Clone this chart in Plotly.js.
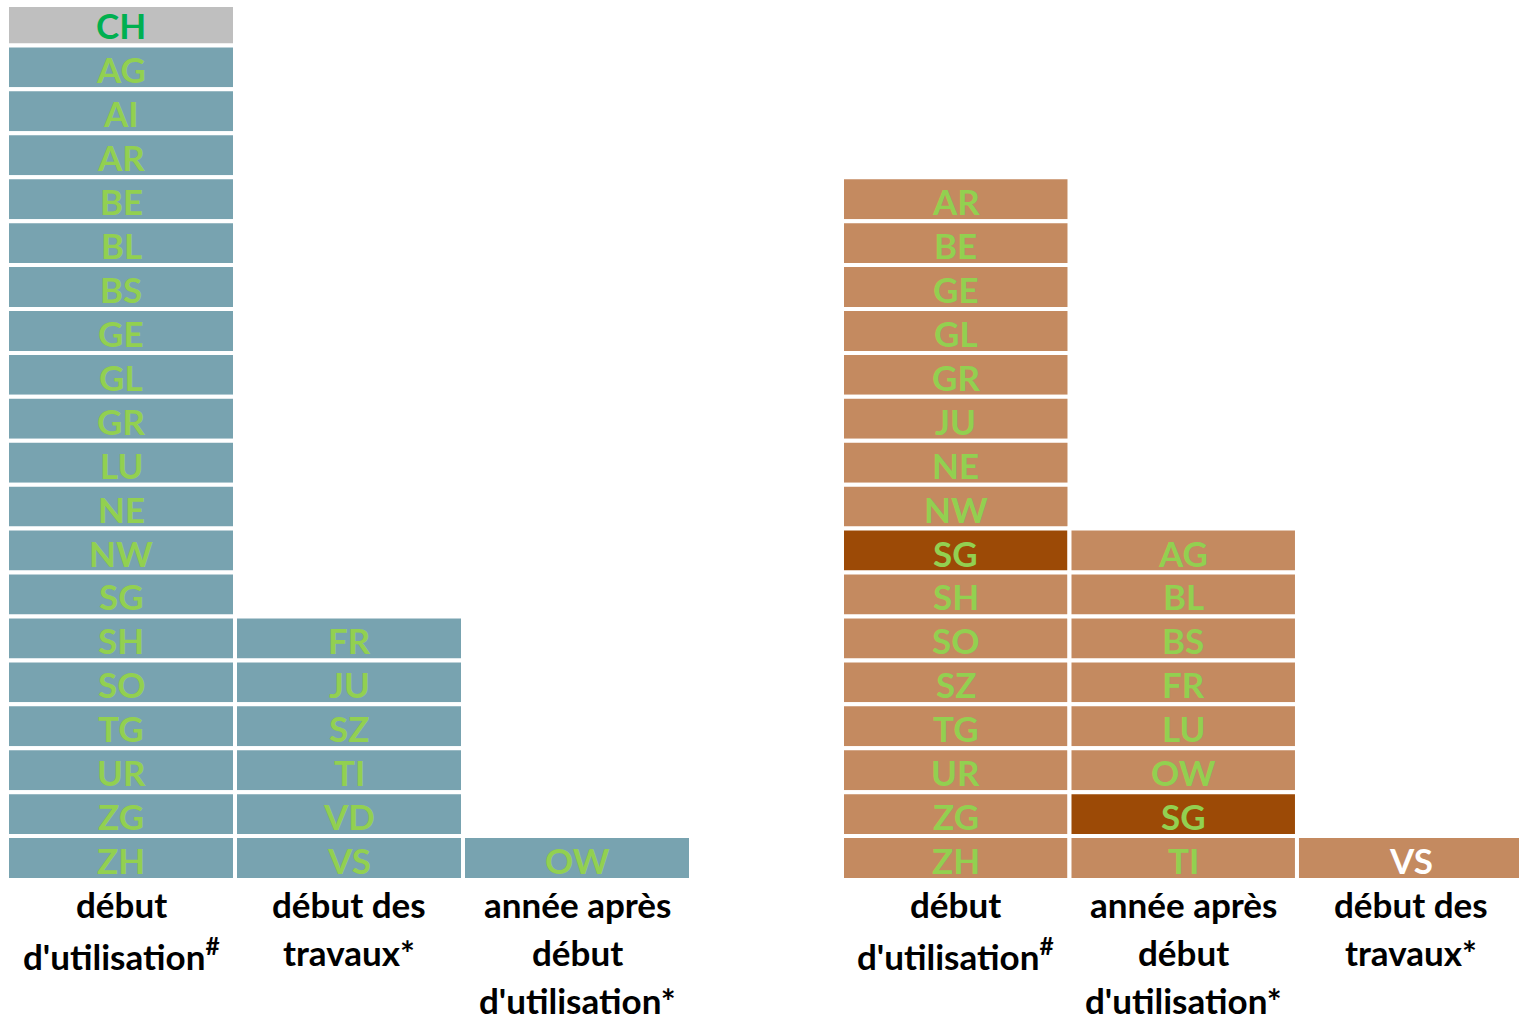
<!DOCTYPE html>
<html>
<head>
<meta charset="utf-8">
<script src="https://cdn.plot.ly/plotly-3.0.1.min.js"></script>
<style>html,body{margin:0;padding:0;background:#fff;}#chart{width:1519px;height:1022px;}</style>
</head>
<body>
<div id="chart"></div>
<script>
// Column categories (bottom labels), left panel and right panel
const leftCategories = ["début<br>d'utilisation<sup>#</sup>", "début des<br>travaux*", "année après<br>début<br>d'utilisation*"];
const rightCategories = ["début<br>d'utilisation<sup>#</sup>", "année après<br>début<br>d'utilisation*", "début des<br>travaux*"];

// Cantons in each column, listed top to bottom
const leftCol1 = ['CH','AG','AI','AR','BE','BL','BS','GE','GL','GR','LU','NE','NW','SG','SH','SO','TG','UR','ZG','ZH'];
const leftCol2 = ['FR','JU','SZ','TI','VD','VS'];
const leftCol3 = ['OW'];
const rightCol1 = ['AR','BE','GE','GL','GR','JU','NE','NW','SG','SH','SO','SZ','TG','UR','ZG','ZH'];
const rightCol2 = ['AG','BL','BS','FR','LU','OW','SG','TI'];
const rightCol3 = ['VS'];

// Highlighted cells
const greyCells = {left: ['CH']};
const darkCells = {right: ['SG']};
const whiteTextCells = {right: ['VS']};

const BLUE = '#78A3B0', BROWN = '#C48A60', DARK = '#9C4A06', GREY = '#BFBFBF';
const GREEN = '#92D050', DKGREEN = '#00B050';

const traces = [];
const annotations = [];
const FONT = 'Lato, "Open Sans", sans-serif';

function buildPanel(side, cats, cols, baseColor, xa) {
  const x = [], y = [], base = [], colors = [];
  cols.forEach((col, ci) => {
    col.forEach((code, i) => {
      const b = col.length - 1 - i;
      x.push(cats[ci]); y.push(1); base.push(b);
      let c = baseColor, tc = GREEN;
      if (side === 'left' && greyCells.left.includes(code)) { c = GREY; tc = DKGREEN; }
      if (side === 'right' && darkCells.right.includes(code)) { c = DARK; }
      if (side === 'right' && whiteTextCells.right.includes(code)) { tc = '#FFFFFF'; }
      colors.push(c);
      annotations.push({
        xref: xa, yref: 'y', x: cats[ci], y: b + 0.5, yshift: -2,
        text: '<b>' + code + '</b>', showarrow: false,
        font: {family: FONT, size: 35, color: tc}
      });
    });
  });
  traces.push({
    type: 'bar', x: x, y: y, base: base, width: 1,
    xaxis: xa, yaxis: 'y',
    marker: {color: colors, line: {color: '#FFFFFF', width: 4}},
    hoverinfo: 'skip', showlegend: false
  });
  cats.forEach(cat => {
    cat.split('<br>').forEach((line, k) => {
      annotations.push({
        xref: xa, yref: 'paper', x: cat, y: 0, yanchor: 'top', yshift: -1 - k * 48,
        text: '<b>' + line + '</b>', showarrow: false,
        font: {family: FONT, size: 35, color: '#000000'}
      });
    });
  });
}

buildPanel('left', leftCategories, [leftCol1, leftCol2, leftCol3], BLUE, 'x');
buildPanel('right', rightCategories, [rightCol1, rightCol2, rightCol3], BROWN, 'x2');

const W = 1519;
const layout = {
  width: 1519, height: 1022,
  margin: {l: 0, r: 0, t: 7, b: 142, pad: 0},
  paper_bgcolor: '#FFFFFF', plot_bgcolor: '#FFFFFF',
  barmode: 'overlay', bargap: 0,
  showlegend: false,
  xaxis: {domain: [7 / W, 691 / W], type: 'category', range: [-0.5, 2.5],
          showticklabels: false, showgrid: false, zeroline: false, showline: false, ticks: ''},
  xaxis2: {domain: [842 / W, 1], type: 'category', range: [-0.5, 2.476],
           showticklabels: false, showgrid: false, zeroline: false, showline: false, ticks: ''},
  yaxis: {range: [0, 19.875], showticklabels: false, showgrid: false, zeroline: false, showline: false, ticks: ''},
  annotations: annotations
};

Plotly.newPlot('chart', traces, layout, {displayModeBar: false, staticPlot: true});
</script>
</body>
</html>
